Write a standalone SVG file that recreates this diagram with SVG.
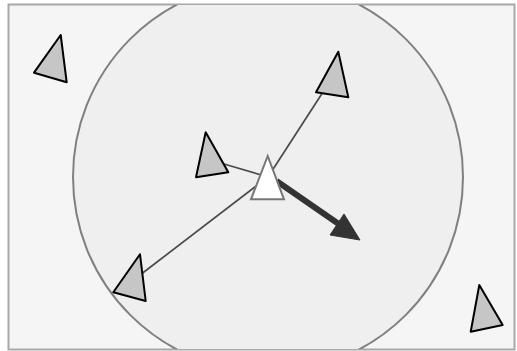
<svg xmlns="http://www.w3.org/2000/svg" width="517" height="351" viewBox="0 0 517 351">
<style>
.boid{fill:#c6c6c6;stroke:#000;stroke-width:2;stroke-linejoin:round}
.link{stroke:#4a4a4a;stroke-width:1.7;fill:none}
</style>
<defs>
<clipPath id="frame"><rect x="9" y="5" width="505" height="344"/></clipPath>
</defs>
<rect width="517" height="351" fill="#ffffff"/>
<rect id="frame-bg" x="8.5" y="4.5" width="506" height="345" fill="#f5f5f5" stroke="#a8a8a8" stroke-width="2"/>
<g id="range" clip-path="url(#frame)">
<circle cx="268" cy="177" r="195" fill="#efefef" stroke="#808080" stroke-width="2"/>
</g>
<g id="connectors">
<line class="link" x1="268" y1="177" x2="323" y2="92"/>
<line class="link" x1="268" y1="177" x2="224" y2="164"/>
<line class="link" x1="268" y1="177" x2="142" y2="273.5"/>
<path d="M276.5,181 L338,223.5" stroke="#333" stroke-width="6" fill="none"/>
<polygon points="360,240 330,235 344,214" fill="#333" stroke="#333" stroke-width="1"/>
</g>
<g id="boid-top-left"><polygon class="boid" points="60.7,35 34,72.7 66.7,82.3"/></g>
<g id="boid-top-right"><polygon class="boid" points="338.3,51.7 316,92.3 348.3,97.3"/></g>
<g id="boid-middle-left"><polygon class="boid" points="205.7,132.3 196,177.3 228.3,172.3"/></g>
<g id="boid-bottom-left"><polygon class="boid" points="140,254.3 113.3,292.3 145.7,301"/></g>
<g id="boid-bottom-right"><polygon class="boid" points="479.3,285 470.7,331.7 502.7,325"/></g>
<g id="boid-center"><polygon points="267.7,156 251,199.3 284,199.3" fill="#ffffff" stroke="#777" stroke-width="2"/></g>
</svg>
